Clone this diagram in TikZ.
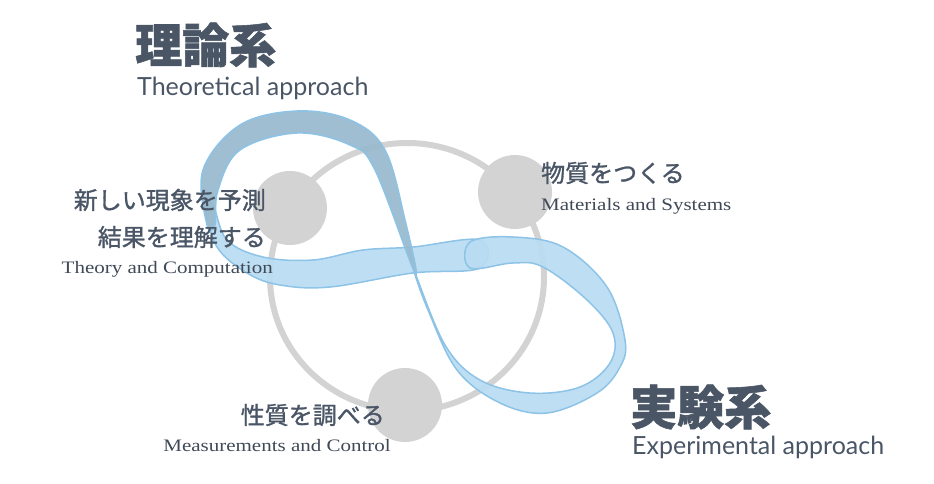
\documentclass[tikz,border=0pt]{standalone}
\usepackage{fontspec}
\setmainfont{Liberation Serif}
\newfontfamily\ser[FakeStretch=1.2]{Liberation Serif}
\newfontfamily\cjk[FakeBold=1.2]{Noto Sans CJK JP}
\newfontfamily\lat{Lato}
\definecolor{txt}{HTML}{4A5666}
\definecolor{gr}{HTML}{D3D3D3}
\definecolor{rl}{HTML}{B9DCF2}
\definecolor{re}{HTML}{8CC3E6}
\definecolor{rd}{HTML}{98B9CD}
\begin{document}
\begin{tikzpicture}[x=1pt,y=-1pt,
 rib/.style={draw=re,line width=1.5pt,fill opacity=0.92},
 dot/.style={circle,fill=gr,minimum size=74pt,inner sep=0pt},
 jp/.style={text=txt,font=\cjk\fontsize{24}{26}\selectfont,inner sep=0pt},
 en/.style={text=txt!85!black,font=\ser\fontsize{17.5}{19}\selectfont,inner sep=0pt},
 big/.style={text=txt,font=\cjk\bfseries\fontsize{47}{50}\selectfont,inner sep=0pt},
 bigen/.style={text=txt,font=\lat\fontsize{25}{28}\selectfont,inner sep=0pt}]
\useasboundingbox (0,0) rectangle (934,484);
\draw[gr,line width=6pt] (407,277) ellipse [x radius=137, y radius=134];
% ribbon
\filldraw[rib,fill=rl] plot[smooth cycle,tension=0.6] coordinates{(213,205)(227,240)(263,257)(313,260)(363,250)(413,247)(480,240)(480,268)(413,273)(330,287)(280,285)(247,273)(217,247)(204,205)};
\filldraw[rib,fill=rl] plot[smooth cycle,tension=0.6] coordinates{(470,242)(513,237)(563,247)(607,287)(625,340)(620,367)(597,393)(547,413)(500,403)(457,370)(428,310)(415,273)(445,345)(480,380)(530,393)(580,387)(610,363)(613,333)(587,300)(543,267)(513,263)(470,268)};
\filldraw[rib,fill=rd] plot[smooth cycle,tension=0.6] coordinates{(207,225)(203,170)(240,125)(297,111)(350,120)(385,150)(405,220)(415,273)(375,170)(350,145)(297,133)(240,150)(218,190)(215,225)};
% dots
\node[dot] (t) at (290,208) {};
\node[dot] (m) at (515,192) {};
\node[dot] (e) at (405,405) {};
% texts
\node[big,anchor=west] (tl) at (135,45) {理論系};
\node[bigen,anchor=west] (te) at (137,88) {Theoretical approach};
\node[big,anchor=west] (el) at (630,407) {実験系};
\node[bigen,anchor=west] (ee) at (632,447) {Experimental approach};
\node[jp,anchor=west] (mj) at (541,173) {物質をつくる};
\node[en,anchor=west] (me) at (541,206) {Materials and Systems};
\node[jp,anchor=east] (t1) at (266,200) {新しい現象を予測};
\node[jp,anchor=east] (t2) at (266,237) {結果を理解する};
\node[en,anchor=east] (t3) at (273,269) {Theory and Computation};
\node[jp,anchor=east] (p1) at (385,415) {性質を調べる};
\node[en,anchor=east] (p2) at (391,446) {Measurements and Control};
\end{tikzpicture}
\end{document}
